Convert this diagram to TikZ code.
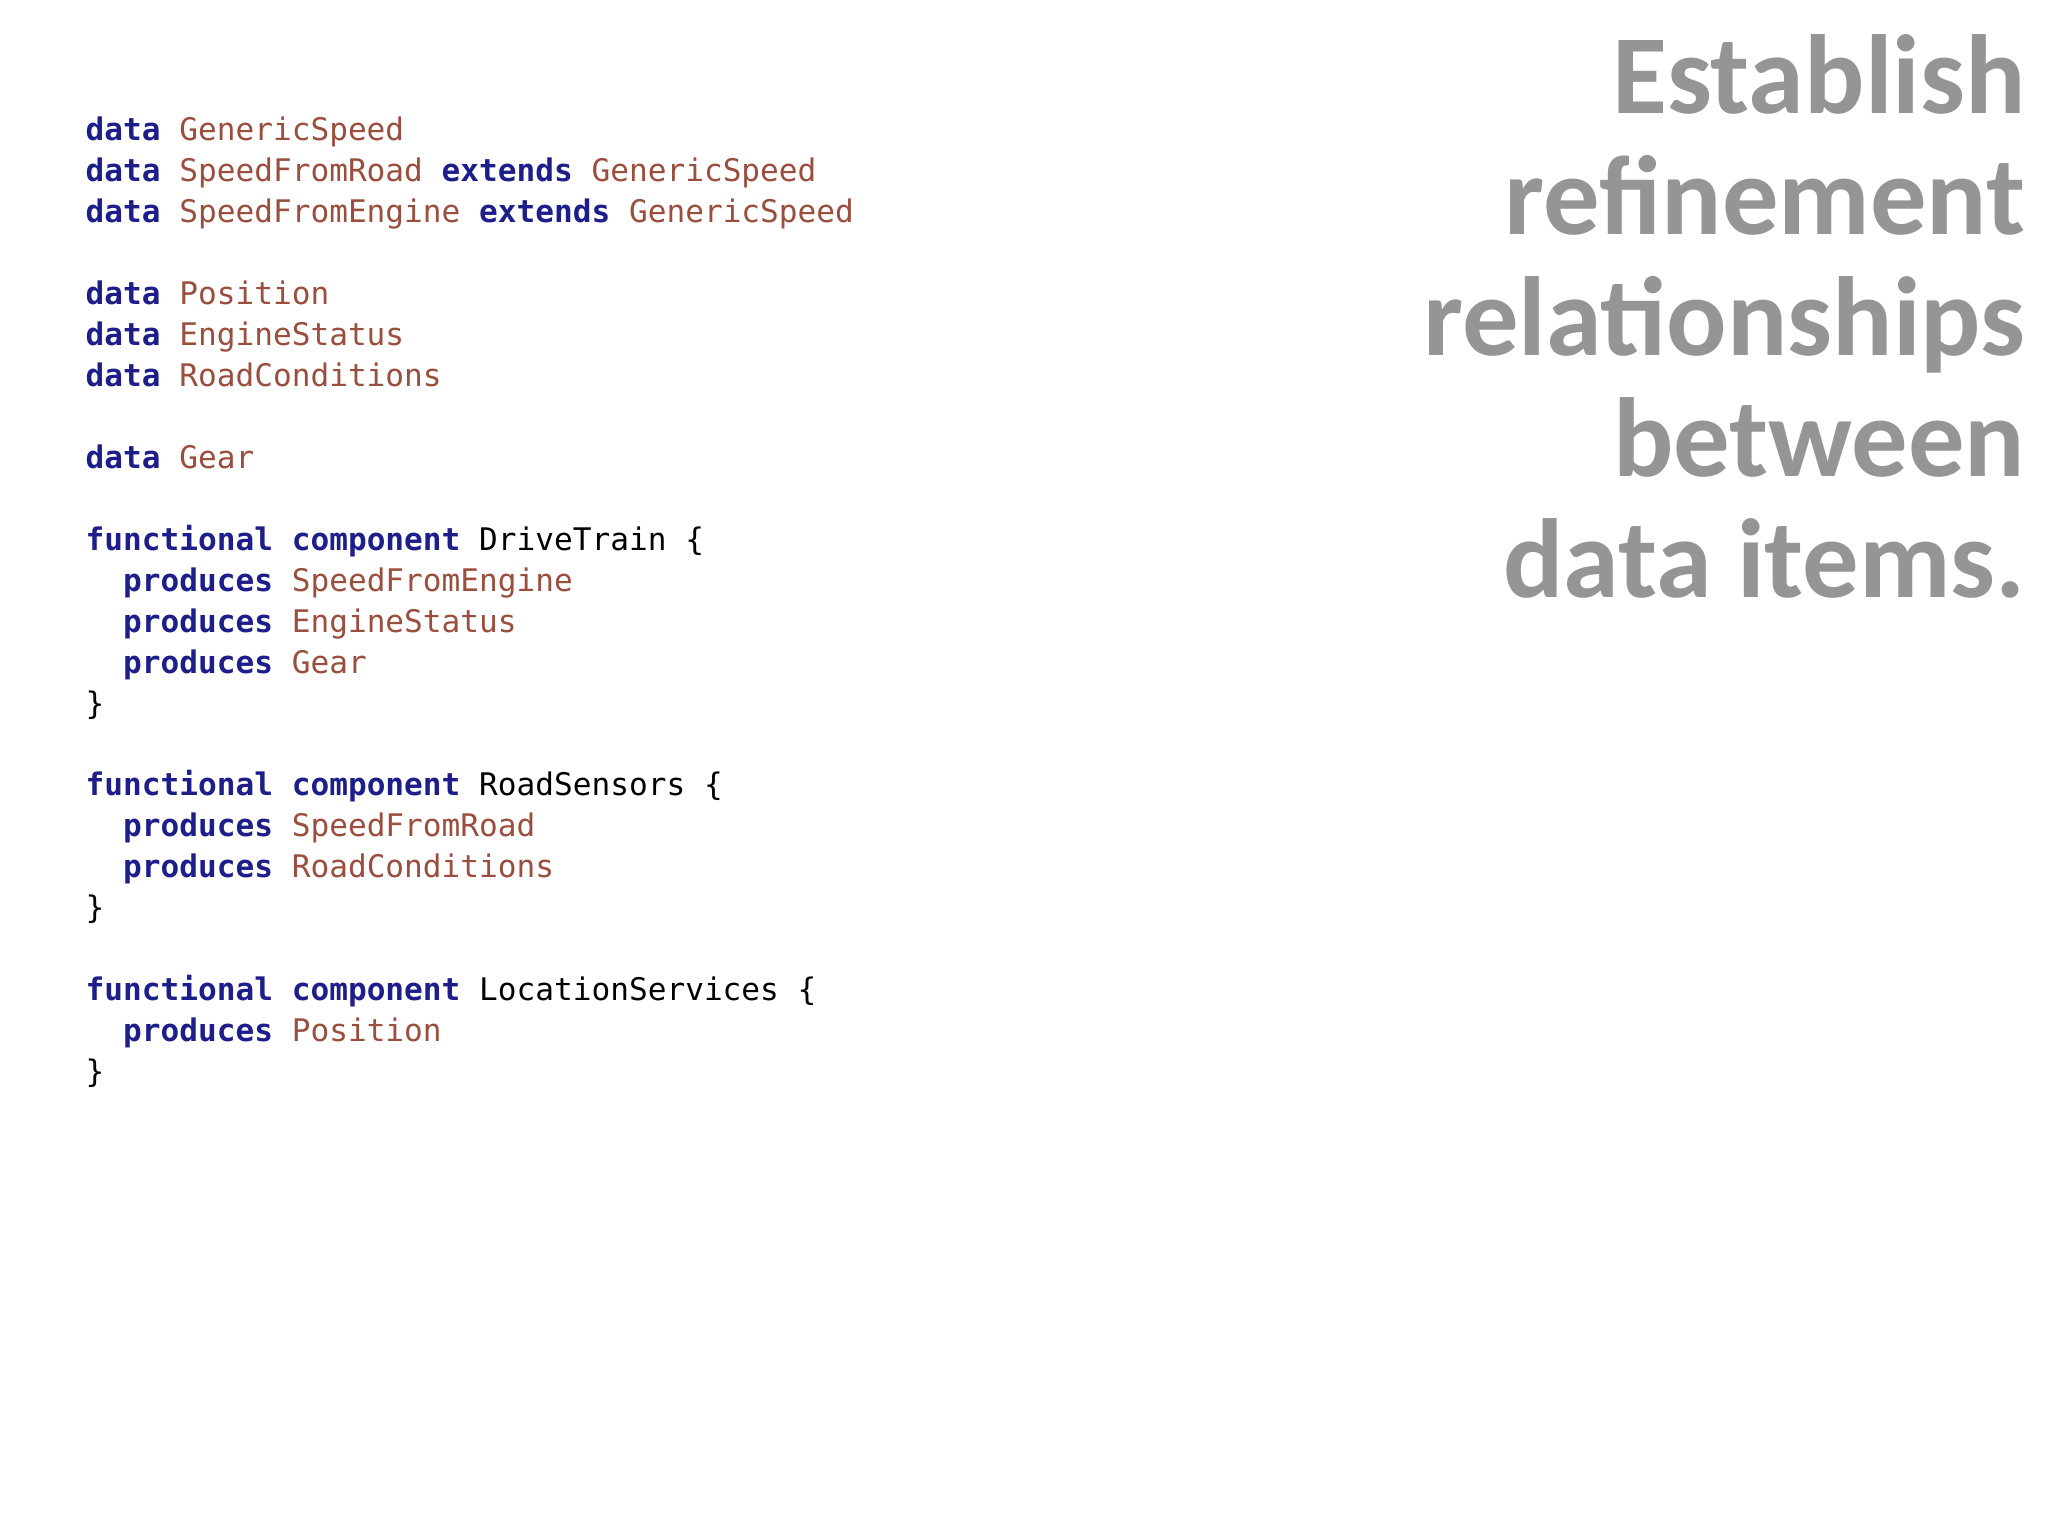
\documentclass[tikz,border=0pt]{standalone}
\usepackage{fontspec}
\setmonofont{DejaVu Sans Mono}
\newfontfamily\titlefont{Carlito}
\definecolor{kw}{HTML}{1E1E8A}
\definecolor{ty}{HTML}{9A4E3E}
\definecolor{tt}{HTML}{959595}
\newcommand{\K}[1]{\textcolor{kw}{\bfseries #1}}
\newcommand{\T}[1]{\textcolor{ty}{#1}}
\begin{document}
\begin{tikzpicture}[x=0.01cm,y=-0.01cm,
  code/.style={anchor=base west,inner sep=0,font=\ttfamily\fontsize{8.85pt}{10pt}\selectfont},
  ttl/.style={anchor=base east,inner sep=0,text=tt,font=\titlefont\bfseries\fontsize{32pt}{34pt}\selectfont}]
\useasboundingbox (0,0) rectangle (2048,1536);
\fill[white] (0,0) rectangle (2048,1536);
\node[code] (l1) at (85,140) {\K{data} \T{GenericSpeed}};
\node[code] (l2) at (85,181) {\K{data} \T{SpeedFromRoad} \K{extends} \T{GenericSpeed}};
\node[code] (l3) at (85,222) {\K{data} \T{SpeedFromEngine} \K{extends} \T{GenericSpeed}};
\node[code] (l4) at (85,304) {\K{data} \T{Position}};
\node[code] (l5) at (85,345) {\K{data} \T{EngineStatus}};
\node[code] (l6) at (85,386) {\K{data} \T{RoadConditions}};
\node[code] (l7) at (85,468) {\K{data} \T{Gear}};
\node[code] (l8) at (85,550) {\K{functional} \K{component} DriveTrain \{};
\node[code] (l9) at (85,591) {\phantom{xx}\K{produces} \T{SpeedFromEngine}};
\node[code] (l10) at (85,632) {\phantom{xx}\K{produces} \T{EngineStatus}};
\node[code] (l11) at (85,673) {\phantom{xx}\K{produces} \T{Gear}};
\node[code] (l12) at (85,714) {\}};
\node[code] (l13) at (85,795) {\K{functional} \K{component} RoadSensors \{};
\node[code] (l14) at (85,836) {\phantom{xx}\K{produces} \T{SpeedFromRoad}};
\node[code] (l15) at (85,877) {\phantom{xx}\K{produces} \T{RoadConditions}};
\node[code] (l16) at (85,918) {\}};
\node[code] (l17) at (85,1000) {\K{functional} \K{component} LocationServices \{};
\node[code] (l18) at (85,1041) {\phantom{xx}\K{produces} \T{Position}};
\node[code] (l19) at (85,1082) {\}};
\node[ttl] (t1) at (2026,113) {Establish};
\node[ttl] (t2) at (2026,234) {refinement};
\node[ttl] (t3) at (2026,355) {relationships};
\node[ttl] (t4) at (2026,476) {between};
\node[ttl] (t5) at (2026,597) {data items.};
\end{tikzpicture}
\end{document}
